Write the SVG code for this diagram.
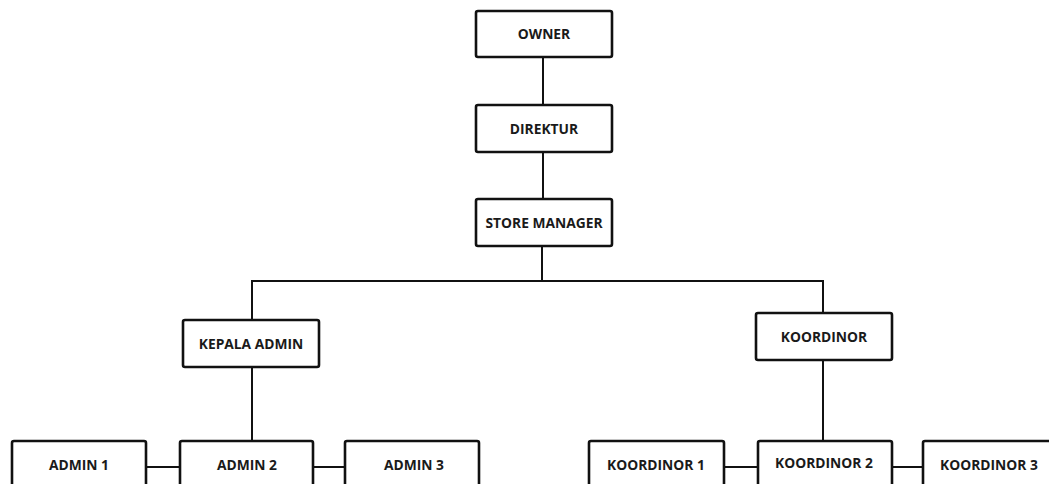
<svg xmlns="http://www.w3.org/2000/svg" width="1049" height="484" viewBox="0 0 1049 484">
<style>
.box{fill:#fff;stroke:#111;stroke-width:2.6}
.lbl{font-family:"Open Sans","Liberation Sans",sans-serif;font-weight:bold;font-size:13.8px;fill:#1a1a1a;text-anchor:middle}
.ln{stroke:#111;stroke-width:2;fill:none}
</style>
<rect width="1049" height="484" fill="#fff"/>
<g id="connectors">
<line class="ln" x1="543" y1="57" x2="543" y2="105"/>
<line class="ln" x1="543" y1="152" x2="543" y2="199"/>
<line class="ln" x1="542" y1="246" x2="542" y2="281"/>
<polyline class="ln" points="252,320 252,281 823,281 823,313"/>
<line class="ln" x1="252" y1="367" x2="252" y2="441"/>
<line class="ln" x1="823" y1="360" x2="823" y2="441"/>
<line class="ln" x1="146" y1="467" x2="180" y2="467"/>
<line class="ln" x1="313" y1="467" x2="345" y2="467"/>
<line class="ln" x1="724" y1="467" x2="758" y2="467"/>
<line class="ln" x1="892" y1="467" x2="923" y2="467"/>
</g>
<g id="owner"><rect class="box" x="476" y="11" width="136" height="46" rx="2"/><text class="lbl" x="544" y="39">OWNER</text></g>
<g id="direktur"><rect class="box" x="476" y="105" width="136" height="47" rx="2"/><text class="lbl" x="544" y="133.5">DIREKTUR</text></g>
<g id="store-manager"><rect class="box" x="476" y="199" width="136" height="47" rx="2"/><text class="lbl" x="544" y="227.5">STORE MANAGER</text></g>
<g id="kepala-admin"><rect class="box" x="183" y="320" width="136" height="47" rx="2"/><text class="lbl" x="251" y="348.5">KEPALA ADMIN</text></g>
<g id="koordinor"><rect class="box" x="756" y="313" width="136" height="47" rx="2"/><text class="lbl" x="824" y="341.5">KOORDINOR</text></g>
<g id="admin1"><rect class="box" x="12" y="441" width="134" height="50" rx="2"/><text class="lbl" x="79" y="469.5">ADMIN 1</text></g>
<g id="admin2"><rect class="box" x="180" y="441" width="133" height="50" rx="2"/><text class="lbl" x="247" y="469.5">ADMIN 2</text></g>
<g id="admin3"><rect class="box" x="345" y="441" width="134" height="50" rx="2"/><text class="lbl" x="414" y="469.5">ADMIN 3</text></g>
<g id="koordinor1"><rect class="box" x="589" y="441" width="135" height="50" rx="2"/><text class="lbl" x="656" y="469.5">KOORDINOR 1</text></g>
<g id="koordinor2"><rect class="box" x="758" y="441" width="134" height="50" rx="2"/><text class="lbl" x="824" y="467.5">KOORDINOR 2</text></g>
<g id="koordinor3"><rect class="box" x="923" y="441" width="135" height="50" rx="2"/><text class="lbl" x="989" y="469.5">KOORDINOR 3</text></g>
</svg>
